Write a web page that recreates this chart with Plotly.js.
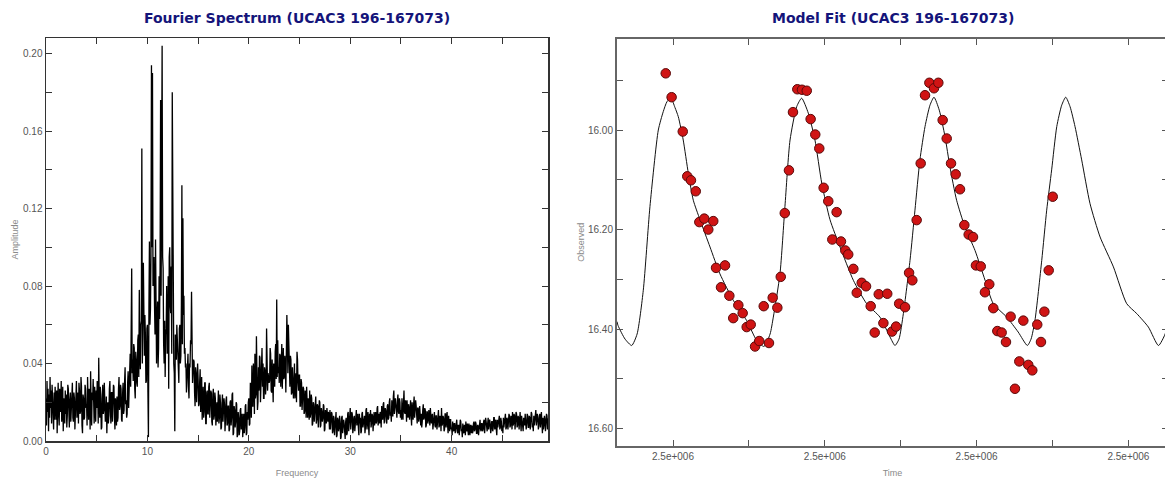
<!DOCTYPE html>
<html>
<head>
<meta charset="utf-8">
<script src="https://cdn.plot.ly/plotly-3.0.1.min.js"></script>
<style>
html,body{margin:0;padding:0;background:#fff;overflow:hidden;}
#chart{width:1168px;height:478px;}
</style>
</head>
<body>
<div id="chart"></div>
<script>
// ---------- Fourier spectrum (frequency grid starts at 0, step 0.05; one row = one frequency unit) ----------
const freqStart = 0;
const freqStep = 0.05;
const amplitude = [
.022,.008,.031,.015,.027,.005,.024,.012,.033,.017,.026,.009,.029,.014,.021,.006,.025,.011,.028,.016,
.011,.026,.004,.019,.030,.013,.008,.027,.023,.015,.031,.010,.018,.028,.005,.022,.020,.009,.026,.014,
.024,.007,.013,.029,.027,.016,.007,.021,.025,.010,.016,.029,.030,.012,.010,.025,.022,.006,.014,.027,
.031,.012,.018,.025,.009,.030,.026,.014,.015,.033,.028,.008,.004,.024,.022,.011,.012,.029,.027,.017,
.019,.008,.033,.021,.011,.027,.024,.006,.036,.017,.008,.025,.021,.032,.014,.009,.028,.018,.010,.026,
.017,.031,.026,.009,.043,.020,.012,.028,.022,.006,.007,.024,.029,.014,.016,.030,.024,.010,.011,.023,
.004,.018,.020,.009,.013,.027,.031,.015,.009,.025,.025,.010,.017,.029,.028,.012,.006,.022,.019,.008,
.023,.010,.012,.027,.033,.016,.018,.029,.027,.011,.010,.024,.030,.014,.016,.031,.038,.019,.021,.012,
.014,.030,.036,.017,.024,.040,.045,.028,.066,.089,.035,.042,.031,.050,.048,.027,.022,.046,.042,.030,
.028,.052,.055,.033,.078,.045,.037,.060,.062,.151,.040,.070,.092,.048,.044,.065,.055,.030,.031,.058,
.060,.025,.002,.070,.103,.060,.068,.095,.194,.100,.190,.080,.085,.095,.070,.055,.104,.045,.040,.062,
.072,.038,.048,.085,.063,.090,.176,.075,.112,.204,.095,.089,.050,.040,.062,.033,.055,.058,.080,.045,
.050,.085,.027,.095,.100,.070,.066,.090,.045,.180,.097,.060,.040,.035,.005,.055,.048,.042,.060,.050,
.051,.030,.030,.058,.060,.040,.044,.070,.132,.050,.115,.065,.075,.045,.048,.038,.040,.025,.033,.045,
.045,.028,.022,.040,.038,.052,.050,.077,.035,.030,.036,.042,.041,.025,.018,.038,.035,.020,.028,.040,
.032,.018,.019,.030,.037,.015,.024,.033,.011,.022,.028,.012,.015,.030,.030,.009,.009,.025,.026,.014,
.014,.028,.030,.012,.018,.026,.025,.010,.008,.024,.027,.011,.013,.025,.022,.008,.017,.020,.010,.023,
.026,.009,.012,.024,.020,.006,.007,.019,.024,.010,.015,.022,.019,.005,.011,.021,.023,.008,.009,.018,
.018,.005,.006,.020,.021,.008,.012,.024,.025,.003,.004,.018,.016,.007,.010,.020,.019,.002,.003,.015,
.012,.003,.005,.016,.017,.006,.009,.014,.002,.012,.014,.004,.007,.018,.019,.003,.004,.015,.011,.020,
.022,.008,.009,.030,.028,.012,.039,.018,.018,.040,.033,.014,.045,.022,.024,.054,.037,.016,.020,.038,
.026,.044,.043,.020,.030,.046,.048,.028,.040,.022,.022,.038,.036,.024,.029,.058,.041,.026,.035,.030,
.030,.031,.048,.045,.026,.025,.042,.035,.020,.040,.030,.028,.046,.050,.032,.073,.033,.052,.035,.038,
.030,.045,.044,.028,.036,.050,.027,.040,.048,.032,.033,.044,.040,.025,.038,.065,.052,.035,.060,.040,
.035,.028,.044,.042,.024,.025,.038,.030,.022,.030,.040,.022,.033,.035,.020,.046,.042,.030,.026,.034,
.034,.018,.018,.032,.030,.016,.022,.028,.027,.014,.015,.026,.024,.012,.028,.020,.012,.022,.020,.011,
.026,.012,.014,.024,.022,.008,.009,.020,.019,.010,.016,.022,.023,.009,.011,.019,.018,.007,.013,.021,
.020,.007,.008,.017,.015,.010,.012,.019,.018,.005,.006,.016,.014,.009,.017,.012,.010,.015,.013,.006,
.016,.006,.009,.015,.014,.004,.005,.013,.012,.003,.008,.014,.015,.002,.003,.012,.011,.005,.007,.013,
.010,.001,.002,.012,.013,.004,.006,.011,.009,.001,.001,.010,.012,.003,.004,.014,.015,.005,.008,.012,
.017,.006,.010,.015,.014,.004,.006,.012,.013,.005,.009,.015,.016,.008,.011,.014,.007,.003,.014,.009,
.012,.004,.005,.014,.015,.007,.009,.013,.013,.004,.007,.016,.017,.006,.010,.015,.008,.003,.014,.010,
.016,.007,.009,.014,.013,.005,.011,.015,.008,.012,.015,.009,.010,.017,.018,.008,.012,.014,.009,.015,
.014,.007,.018,.012,.011,.019,.020,.009,.013,.017,.016,.010,.009,.018,.019,.011,.012,.020,.022,.013,
.015,.010,.021,.013,.013,.023,.026,.014,.017,.022,.019,.012,.012,.021,.024,.015,.014,.022,.020,.012,
.016,.011,.022,.014,.011,.020,.026,.015,.014,.021,.019,.010,.021,.016,.012,.019,.017,.011,.015,.021,
.013,.008,.020,.014,.011,.019,.023,.012,.016,.021,.018,.009,.009,.017,.017,.010,.012,.018,.015,.008,
.014,.007,.010,.016,.019,.011,.012,.017,.016,.007,.008,.015,.015,.009,.011,.016,.013,.008,.017,.011,
.009,.013,.014,.006,.011,.015,.015,.008,.007,.013,.013,.006,.010,.015,.016,.007,.008,.013,.012,.005,
.017,.008,.009,.013,.012,.005,.006,.014,.014,.007,.010,.015,.008,.004,.013,.010,.005,.011,.011,.006,
.007,.003,.010,.006,.005,.009,.009,.004,.006,.010,.011,.005,.004,.008,.008,.003,.007,.011,.010,.005,
.006,.002,.009,.005,.004,.008,.008,.003,.010,.006,.005,.009,.007,.003,.009,.006,.003,.008,.008,.004,
.008,.004,.005,.009,.010,.005,.006,.010,.009,.004,.004,.008,.008,.003,.007,.010,.011,.006,.005,.009,
.009,.005,.006,.010,.011,.004,.007,.012,.010,.005,.005,.009,.012,.006,.008,.011,.009,.004,.006,.010,
.010,.005,.007,.012,.012,.006,.008,.011,.006,.003,.011,.007,.009,.013,.013,.006,.007,.012,.010,.005,
.008,.004,.012,.007,.009,.013,.014,.006,.007,.012,.011,.006,.010,.014,.013,.007,.008,.013,.012,.006,
.015,.008,.009,.014,.013,.006,.010,.015,.014,.007,.008,.013,.012,.006,.011,.015,.009,.005,.013,.008,
.010,.005,.012,.008,.008,.014,.011,.006,.009,.014,.013,.007,.007,.013,.012,.006,.010,.015,.014,.007,
.009,.005,.013,.008,.011,.016,.016,.008,.010,.014,.012,.006,.008,.013,.014,.007,.011,.015,.009,.004,
.012,.006,.008,.013,.011,.005,.009,.014,.013,.006,.007,.012
];
const freqTickVals = [0,5,10,15,20,25,30,35,40,45];
const freqTickText = ['0','','10','','20','','30','','40',''];
const ampTickVals = [0,0.02,0.04,0.06,0.08,0.10,0.12,0.14,0.16,0.18,0.20];
const ampTickText = ['0.00','','0.04','','0.08','','0.12','','0.16','','0.20'];

// ---------- Model fit (time = JD0 + offset in days) ----------
const JD0 = 2455000.0;
const modelTime = [-0.0380,-0.0373,-0.0328,-0.0285,-0.0250,-0.0210,-0.0167,-0.0113,-0.0081,-0.0057,-0.0031,-0.0005,0.0016,0.0048,0.0081,0.0113,0.0156,0.0221,0.0285,0.0371,0.0458,0.0523,0.0570,0.0609,0.0630,0.0673,0.0705,0.0738,0.0781,0.0813,0.0856,0.0899,0.0943,0.0996,0.1061,0.1147,0.1233,0.1319,0.1384,0.1416,0.1442,0.1470,0.1513,0.1545,0.1577,0.1610,0.1642,0.1668,0.1702,0.1739,0.1771,0.1814,0.1868,0.1933,0.1998,0.2051,0.2138,0.2212,0.2271,0.2295,0.2320,0.2364,0.2396,0.2428,0.2461,0.2493,0.2519,0.2547,0.2579,0.2622,0.2676,0.2741,0.2827,0.2913,0.2978,0.3053,0.3118,0.3161,0.3194];
const modelMag = [16.385,16.393,16.420,16.433,16.410,16.322,16.154,16.000,15.963,15.943,15.936,15.955,15.973,16.020,16.087,16.141,16.180,16.235,16.289,16.342,16.383,16.423,16.435,16.410,16.376,16.289,16.154,16.020,15.953,15.936,15.966,16.020,16.107,16.180,16.235,16.302,16.349,16.376,16.416,16.433,16.420,16.369,16.262,16.161,16.060,15.993,15.950,15.934,15.960,16.013,16.074,16.141,16.195,16.242,16.302,16.349,16.376,16.406,16.433,16.420,16.383,16.262,16.161,16.080,15.993,15.950,15.934,15.953,15.993,16.060,16.148,16.215,16.275,16.349,16.369,16.396,16.433,16.410,16.370];

const obsTime = [-0.0065,-0.0027,0.0045,0.0074,0.0098,0.0129,0.0152,0.0184,0.0242,0.0210,0.0260,0.0318,0.0292,0.0346,0.0404,0.0432,0.0371,0.0458,0.0484,0.0512,0.0539,0.0602,0.0568,0.0626,0.0656,0.0678,0.0704,0.0731,0.0757,0.0785,0.0815,0.0846,0.0871,0.0901,0.0927,0.0955,0.0985,0.1039,0.1011,0.1067,0.1095,0.1114,0.1147,0.1201,0.1229,0.1169,0.1259,0.1311,0.1366,0.1443,0.1285,0.1341,0.1397,0.1423,0.1481,0.1507,0.1528,0.1556,0.1582,0.1610,0.1638,0.1668,0.1696,0.1724,0.1750,0.1778,0.1808,0.1836,0.1864,0.1892,0.1920,0.1939,0.1970,0.2025,0.1997,0.2051,0.2077,0.2105,0.2133,0.2163,0.2219,0.2277,0.2303,0.2191,0.2245,0.2335,0.2359,0.2381,0.2409,0.2435];
const obsMag = [15.886,15.934,16.003,16.093,16.101,16.123,16.185,16.178,16.183,16.200,16.277,16.272,16.316,16.333,16.352,16.368,16.378,16.396,16.391,16.435,16.424,16.428,16.354,16.337,16.357,16.295,16.167,16.081,15.964,15.918,15.919,15.921,15.978,16.009,16.037,16.116,16.143,16.165,16.220,16.224,16.242,16.250,16.279,16.307,16.314,16.327,16.354,16.330,16.329,16.349,16.407,16.388,16.405,16.395,16.356,16.287,16.302,16.181,16.067,15.930,15.905,15.916,15.905,15.980,16.017,16.067,16.089,16.119,16.191,16.210,16.215,16.272,16.274,16.310,16.326,16.358,16.404,16.407,16.426,16.375,16.465,16.472,16.483,16.520,16.383,16.391,16.426,16.365,16.282,16.134];
const timeTickOffsets = [-0.0018,0.0472,0.0963,0.1453,0.1943,0.2434,0.2924];
const timeTickText = ['2.5e+006','','2.5e+006','','2.5e+006','','2.5e+006'];
const magTickVals = [15.9,16.0,16.1,16.2,16.3,16.4,16.5,16.6];
const magTickText = ['','16.00','','16.20','','16.40','','16.60'];

// ---------- build ----------
const W = 1168, H = 478;
const px = (a,b)=>[a/W, b/W];
const py = (top,bottom)=>[(H-bottom)/H, (H-top)/H];

const tickFont = {family:'Liberation Sans, Arial, sans-serif', size:10, color:'#555'};
const axTitleFont = {family:'Liberation Sans, Arial, sans-serif', size:9, color:'#8a8a8a'};

const traces = [
  {type:'scatter', mode:'lines', x0:freqStart, dx:freqStep, y:amplitude,
   line:{color:'#000', width:1.3}, xaxis:'x', yaxis:'y', hoverinfo:'skip'},
  {type:'scatter', mode:'lines', x:modelTime.map(t=>JD0+t), y:modelMag,
   line:{color:'#111', width:1, shape:'spline', smoothing:0.6}, xaxis:'x2', yaxis:'y2', hoverinfo:'skip'},
  {type:'scatter', mode:'markers', x:obsTime.map(t=>JD0+t), y:obsMag,
   marker:{color:'#d01414', size:9.5, line:{color:'#5a0a0a', width:1}}, xaxis:'x2', yaxis:'y2', hoverinfo:'skip'}
];

const common = {showgrid:false, zeroline:false, ticks:'inside', ticklen:6, tickwidth:1,
  showline:true, mirror:'ticks', tickfont:tickFont, tickmode:'array'};

const layout = {
  width:W, height:H, margin:{l:0,r:0,t:0,b:0},
  paper_bgcolor:'#fff', plot_bgcolor:'#fff', showlegend:false,
  xaxis: Object.assign({}, common, {domain:px(46,548), range:[0,49.5],
    tickvals:freqTickVals, ticktext:freqTickText, linecolor:'#333', linewidth:1.5, tickcolor:'#333',
    title:{text:'Frequency', font:axTitleFont}, anchor:'y'}),
  yaxis: Object.assign({}, common, {domain:py(38,441), range:[0,0.208],
    tickvals:ampTickVals, ticktext:ampTickText, linecolor:'#333', linewidth:1.5, tickcolor:'#333',
    title:{text:'Amplitude', font:axTitleFont}, anchor:'x'}),
  xaxis2: Object.assign({}, common, {domain:px(617,1168), range:[JD0-0.03798, JD0+0.31796],
    tickvals:timeTickOffsets.map(t=>JD0+t), ticktext:timeTickText, linecolor:'#666', linewidth:2, tickcolor:'#555',
    title:{text:'Time', font:axTitleFont}, anchor:'y2'}),
  yaxis2: Object.assign({}, common, {domain:py(38.5,446), range:[16.635,15.816],
    tickvals:magTickVals, ticktext:magTickText, linecolor:'#666', linewidth:2, tickcolor:'#555',
    title:{text:'Observed', font:axTitleFont}, anchor:'x2'}),
  annotations:[
    {text:'Fourier Spectrum (UCAC3 196-167073)', xref:'paper', yref:'paper', x:297/W, y:(H-18)/H,
     xanchor:'center', yanchor:'middle', showarrow:false,
     font:{family:'DejaVu Sans, sans-serif', size:14, color:'#14147a', weight:'bold'}},
    {text:'Model Fit (UCAC3 196-167073)', xref:'paper', yref:'paper', x:893/W, y:(H-18)/H,
     xanchor:'center', yanchor:'middle', showarrow:false,
     font:{family:'DejaVu Sans, sans-serif', size:14, color:'#14147a', weight:'bold'}}
  ]
};

Plotly.newPlot('chart', traces, layout, {staticPlot:true, displayModeBar:false});
</script>
</body>
</html>
